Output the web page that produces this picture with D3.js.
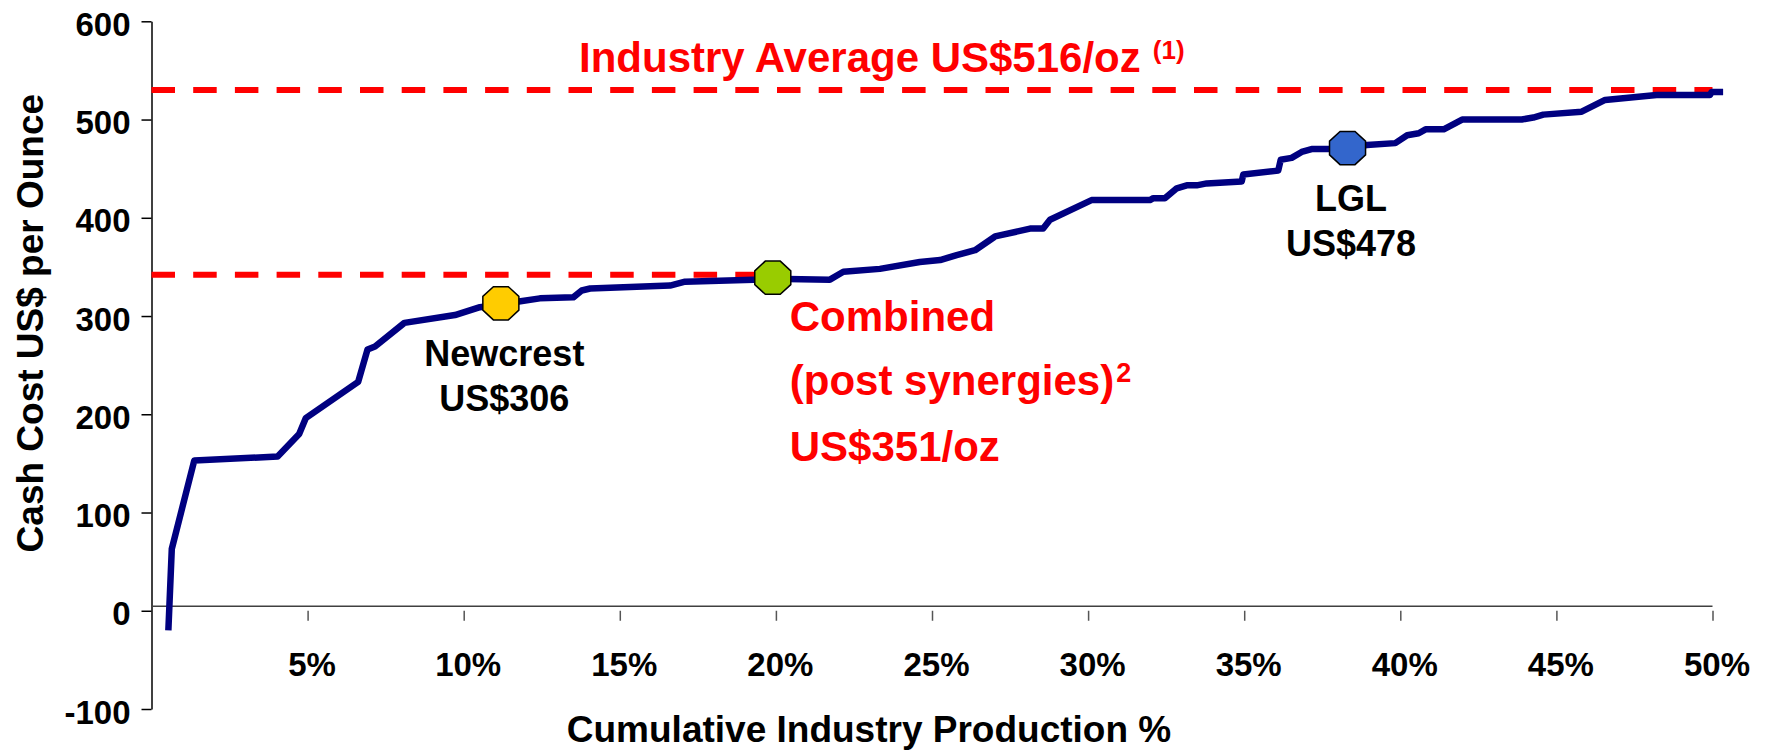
<!DOCTYPE html>
<html>
<head>
<meta charset="utf-8">
<script src="https://cdn.jsdelivr.net/npm/d3@7"></script>
<style>
    body { margin: 0; background: #fff; overflow: hidden; }
    svg { display: block; font-family: "Liberation Sans", Arial, sans-serif; font-weight: bold; }
</style>
</head>
<body>
<svg id="chart"></svg>
<script>
// Cost curve: cumulative production % vs cash cost US$/oz
const cumPct = [0.54, 0.65, 1.37, 4.04, 4.73, 4.94, 6.62, 6.92, 7.16, 8.10, 9.72, 10.52, 11.19,
    12.44, 13.51, 13.78, 14.05, 16.61, 17.09, 19.28, 19.90, 21.73, 22.16, 23.33, 24.61, 25.26,
    25.79, 26.38, 27.02, 28.14, 28.56, 28.78, 30.11, 31.98, 32.09, 32.46, 32.84, 33.16, 33.48,
    33.80, 34.92, 34.97, 36.09, 36.17, 36.52, 36.84, 37.16, 37.69, 38.31, 38.93, 39.84, 40.22,
    40.59, 40.81, 41.39, 41.98, 43.89, 44.26, 44.58, 45.81, 46.56, 48.21, 49.92, 49.97, 50.34];
const cashCost = [-20, 63, 153, 157, 180, 196, 233, 266, 269, 293, 301, 309, 312,
    318, 319, 326, 328, 331, 335, 337, 338, 337, 345, 348, 355, 357,
    362, 367, 381, 389, 389, 398, 418, 418, 420, 420, 430, 433, 433,
    435, 437, 444, 448, 459, 461, 467, 470, 470, 471, 474, 476, 484,
    486, 490, 490, 500, 500, 502, 505, 508, 520, 525, 525, 528, 528];

// Reference levels
const industryAvg = 530;
const combinedLevel = 342;

// Company markers
const markerNames = ['Newcrest', 'Combined', 'LGL'];
const markerPct = [11.19, 19.90, 38.31];
const markerCost = [313, 339, 471];

// Axis ticks
const yTickValues = [-100, 0, 100, 200, 300, 400, 500, 600];
const xTickValues = [5, 10, 15, 20, 25, 30, 35, 40, 45, 50];

const width = 1771;
const height = 752;

const svg = d3.select('#chart')
    .attr('width', width)
    .attr('height', height);

svg.append('rect').attr('width', width).attr('height', height).attr('fill', '#fff');

const x = d3.scaleLinear().domain([0, 50]).range([151.5, 1712.5]);
const y = d3.scaleLinear().domain([-100, 600]).range([709, 21.3]);

// Y axis
const yAxis = svg.append('g')
    .attr('transform', `translate(${x(0)},0)`)
    .call(d3.axisLeft(y).tickValues(yTickValues).tickSize(10).tickPadding(11).tickSizeOuter(0)
        .tickFormat(d => String(d)));
yAxis.select('.domain').attr('stroke', '#000').attr('stroke-width', 1.5);
yAxis.selectAll('.tick line').attr('stroke', '#000').attr('stroke-width', 1.5);
yAxis.selectAll('.tick text')
    .attr('fill', '#000')
    .attr('font-size', '33px')
    .attr('font-family', '"Liberation Sans", Arial, sans-serif')
    .attr('font-weight', 'bold')
    .attr('dy', '0.43em');

// X axis (ticks hang from zero, domain line sits just above)
const xAxis = svg.append('g')
    .attr('transform', `translate(0,${y(0)})`)
    .call(d3.axisBottom(x).tickValues(xTickValues).tickSize(10).tickPadding(32)
        .tickFormat(d => d + '%'));
xAxis.select('.domain').remove();
xAxis.selectAll('.tick line').attr('stroke', '#555').attr('stroke-width', 1.5);
xAxis.selectAll('.tick text')
    .attr('fill', '#000')
    .attr('font-size', '33px')
    .attr('font-family', '"Liberation Sans", Arial, sans-serif')
    .attr('font-weight', 'bold')
    .attr('dx', 4);
svg.append('line')
    .attr('x1', x(0)).attr('x2', x(50))
    .attr('y1', y(0) - 4.5).attr('y2', y(0) - 4.5)
    .attr('stroke', '#404040')
    .attr('stroke-width', 1.5);

// Axis titles
svg.append('text')
    .attr('transform', `translate(43,${(y(600) + y(-100)) / 2 - 42}) rotate(-90)`)
    .attr('text-anchor', 'middle')
    .attr('font-size', '37px')
    .text('Cash Cost US$ per Ounce');

svg.append('text')
    .attr('x', 869)
    .attr('y', 742)
    .attr('text-anchor', 'middle')
    .attr('font-size', '37px')
    .text('Cumulative Industry Production %');

// Dashed reference lines
svg.append('line')
    .attr('x1', x(0)).attr('x2', x(50))
    .attr('y1', y(industryAvg)).attr('y2', y(industryAvg))
    .attr('stroke', '#ff0000')
    .attr('stroke-width', 6)
    .attr('stroke-dasharray', '23.5,18.2');

svg.append('line')
    .attr('x1', x(0)).attr('x2', x(markerPct[1]))
    .attr('y1', y(combinedLevel)).attr('y2', y(combinedLevel))
    .attr('stroke', '#ff0000')
    .attr('stroke-width', 6)
    .attr('stroke-dasharray', '23.5,18.2');

// Cost curve
const points = cumPct.map((p, i) => [p, cashCost[i]]);
svg.append('path')
    .datum(points)
    .attr('fill', 'none')
    .attr('stroke', '#000080')
    .attr('stroke-width', 6.5)
    .attr('stroke-linejoin', 'round')
    .attr('d', d3.line().x(d => x(d[0])).y(d => y(d[1])));

// Octagon markers
const markerColors = ['#ffcc00', '#99cc00', '#3366cc'];
const octagon = d3.range(8).map(i => {
    const a = (i * 45 + 22.5) * Math.PI / 180;
    return [19.5 * Math.cos(a), 18 * Math.sin(a)];
});
svg.append('g')
    .selectAll('path')
    .data(markerNames)
    .join('path')
    .attr('transform', (d, i) => `translate(${x(markerPct[i])},${y(markerCost[i])})`)
    .attr('d', 'M' + octagon.join('L') + 'Z')
    .attr('fill', (d, i) => markerColors[i])
    .attr('stroke', '#000')
    .attr('stroke-width', 1.5);

// Company labels
const blackLabels = [
    { idx: 0, lines: ['Newcrest', 'US$306'] },
    { idx: 2, lines: ['LGL', 'US$478'] }
];
blackLabels.forEach(l => {
    const cx = x(markerPct[l.idx]) + 3.5;
    const cy = y(markerCost[l.idx]);
    l.lines.forEach((t, j) => {
        svg.append('text')
            .attr('x', cx)
            .attr('y', cy + 63 + j * 45)
            .attr('text-anchor', 'middle')
            .attr('font-size', '36px')
            .attr('fill', '#000')
            .text(t);
    });
});

// Combined label (red)
const comb = svg.append('text')
    .attr('font-size', '42px')
    .attr('fill', '#ff0000');
const cx = x(markerPct[1]) + 17;
const cy = y(markerCost[1]);
comb.append('tspan').attr('x', cx).attr('y', cy + 53).text('Combined');
comb.append('tspan').attr('x', cx).attr('y', cy + 117).text('(post synergies)');
comb.append('tspan').attr('dx', 2).attr('dy', -13).attr('font-size', '27px').text('2');
comb.append('tspan').attr('x', cx).attr('y', cy + 183).text('US$351/oz');

// Industry average label
const ind = svg.append('text')
    .attr('x', 579)
    .attr('y', y(industryAvg) - 18.5)
    .attr('font-size', '42px')
    .attr('fill', '#ff0000');
ind.append('tspan').text('Industry Average US$516/oz');
ind.append('tspan').attr('dx', 12).attr('dy', -13).attr('font-size', '26px').text('(1)');
</script>
</body>
</html>
